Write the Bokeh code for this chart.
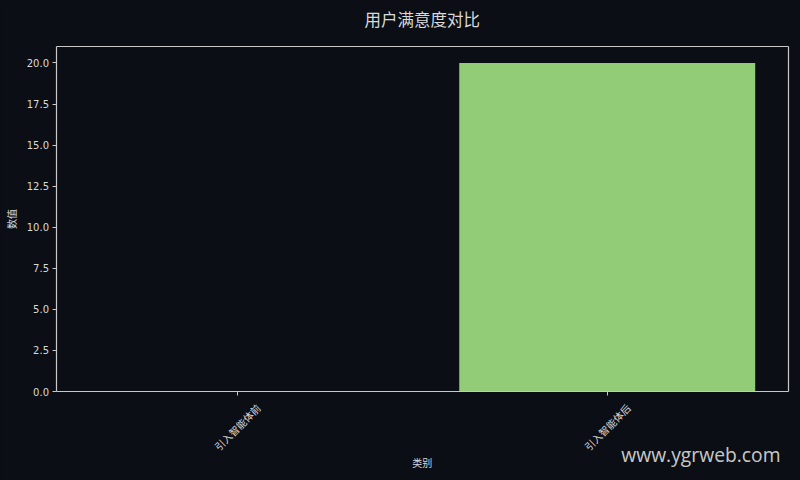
import math
from bokeh.plotting import figure
from bokeh.models import Range1d, FixedTicker, Label, PrintfTickFormatter, LinearAxis
from bokeh.embed import file_html
from bokeh.resources import INLINE

# ---- data ----
categories = ["引入智能体前", "引入智能体后"]
values = [0, 20]
bar_colors = ["#5470c6", "#93cc76"]
y_ticks = [0.0, 2.5, 5.0, 7.5, 10.0, 12.5, 15.0, 17.5, 20.0]
title_text = "用户满意度对比"
x_label = "类别"
y_label = "数值"
watermark = "www.ygrweb.com"

# ---- style / layout (pixels inside the canvas) ----
BG = "#0b0e14"
FG = "#d9d9d9"
AX = "#c8c8c8"
CJK = "Noto Sans CJK SC"
W, H = 800, 480
BOX_L, BOX_R, BOX_T, BOX_B = 55.5, 788.0, 46.0, 391.0

xs = list(range(len(categories)))
bar_w = 0.8
x_pad = 0.05 * ((len(categories) - 1) + bar_w)
x_lo, x_hi = -bar_w / 2 - x_pad, (len(categories) - 1) + bar_w / 2 + x_pad
y_lo, y_hi = 0.0, max(values) * 1.05

dx = (x_hi - x_lo) / (BOX_R - BOX_L)
dy = (y_hi - y_lo) / (BOX_B - BOX_T)
x_range = Range1d(x_lo - BOX_L * dx, x_hi + (W - BOX_R) * dx)
y_range = Range1d(y_lo - (H - BOX_B) * dy, y_hi + BOX_T * dy)

p = figure(width=W, height=H, output_backend="svg", toolbar_location=None,
           x_range=x_range, y_range=y_range,
           min_border_left=0, min_border_right=0, min_border_top=0, min_border_bottom=0)

p.vbar(x=xs, top=values, width=bar_w, fill_color=bar_colors, line_color=None)

p.background_fill_color = BG
p.border_fill_color = BG
p.outline_line_color = None
p.grid.visible = False

def style_axis(ax):
    ax.axis_line_color = AX
    ax.axis_line_width = 1.2
    ax.major_tick_line_color = AX
    ax.major_tick_line_width = 1
    ax.major_tick_out = 4
    ax.major_tick_in = 0
    ax.minor_tick_line_color = None
    ax.major_label_text_color = FG
    ax.major_label_text_font_size = "10px"
    ax.axis_label_text_color = FG
    ax.axis_label_text_font = CJK
    ax.axis_label_text_font_size = "10px"
    ax.axis_label_text_font_style = "normal"

xa = p.xaxis[0]
style_axis(xa)
xa.fixed_location = y_lo
xa.bounds = (x_lo, x_hi)
xa.ticker = FixedTicker(ticks=xs)
xa.major_label_overrides = {i: "" for i in xs}

ya = p.yaxis[0]
style_axis(ya)
ya.fixed_location = x_lo
ya.bounds = (y_lo, y_hi)
ya.ticker = FixedTicker(ticks=y_ticks)
ya.formatter = PrintfTickFormatter(format="%.1f")
ya.major_label_text_font = "DejaVu Sans"
ya.major_label_standoff = 3
ya.axis_label = y_label
ya.axis_label_standoff = 5

top_spine = LinearAxis(fixed_location=y_hi, bounds=(x_lo, x_hi), ticker=FixedTicker(ticks=[]))
right_spine = LinearAxis(fixed_location=x_hi, bounds=(y_lo, y_hi), ticker=FixedTicker(ticks=[]))
for sp in (top_spine, right_spine):
    style_axis(sp)
    sp.major_tick_line_color = None
p.add_layout(top_spine, "above")
p.add_layout(right_spine, "right")

# rotated category labels centred under each tick
for xi, cat in zip(xs, categories):
    p.add_layout(Label(x=xi, y=H - BOX_B - 35.5, y_units="screen", text=cat, angle=math.pi / 4,
                       text_align="center", text_baseline="middle",
                       text_font=CJK, text_font_size="10px", text_color=FG))

p.add_layout(Label(x=(x_lo + x_hi) / 2, y=H - 461.7, y_units="screen", text=x_label,
                   text_align="center", text_baseline="middle",
                   text_font=CJK, text_font_size="10px", text_color=FG))

p.add_layout(Label(x=(x_lo + x_hi) / 2, y=H - 18, y_units="screen", text=title_text,
                   text_align="center", text_baseline="middle",
                   text_font=CJK, text_font_size="16.5px", text_color=FG))

p.add_layout(Label(x=780, y=H - 454, x_units="screen", y_units="screen", text=watermark,
                   text_align="right", text_baseline="alphabetic",
                   text_font="Open Sans", text_font_size="19.3px",
                   text_color="#e0e0e0", text_alpha=0.9))

html = file_html(p, INLINE)
html = html.replace("</head>", "<style>html,body{background:%s;}</style></head>" % BG, 1)
open("out.html", "w").write(html)
